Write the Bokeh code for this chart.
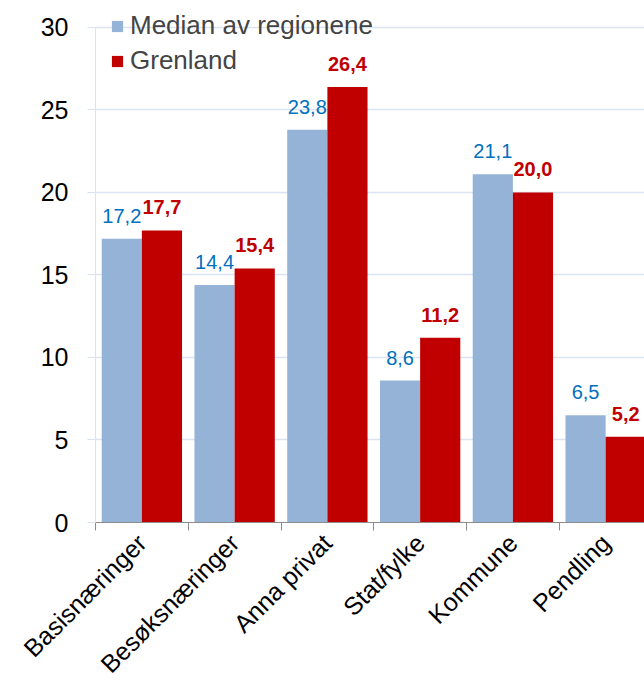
from bokeh.plotting import figure
from bokeh.models import ColumnDataSource, Range1d, FixedTicker, LabelSet, Legend, LegendItem
from bokeh.core.properties import value
from bokeh.embed import file_html
from bokeh.resources import INLINE
import math

categories = ["Basisnæringer", "Besøksnæringer", "Anna privat", "Stat/fylke", "Kommune", "Pendling"]
median_vals = [17.2, 14.4, 23.8, 8.6, 21.1, 6.5]
grenland_vals = [17.7, 15.4, 26.4, 11.2, 20.0, 5.2]
series_names = ["Median av regionene", "Grenland"]
y_ticks = [0, 5, 10, 15, 20, 25, 30]

BLUE = "#95b3d7"
RED = "#c00000"
BLUE_TXT = "#0070c0"
GRID = "#d9e3f1"
FONT = "Liberation Sans"

n = len(categories)
bw = 0.433
centers = [i + 0.5 for i in range(n)]
xb = [c - bw / 2 for c in centers]
xr = [c + bw / 2 for c in centers]

def fmt(v):
    return f"{v:.1f}".replace(".", ",")

src_b = ColumnDataSource(dict(x=xb, top=median_vals, lab=[fmt(v) for v in median_vals]))
src_r = ColumnDataSource(dict(x=xr, top=grenland_vals, lab=[fmt(v) for v in grenland_vals]))

p = figure(width=644, height=690, output_backend="svg", toolbar_location=None,
           x_range=Range1d(0, 5.919), y_range=Range1d(0, 31.636),
           min_border_left=95, min_border_right=0, min_border_top=0, min_border_bottom=168)
p.outline_line_color = None
p.background_fill_color = "white"

rb = p.vbar(x="x", top="top", width=bw, source=src_b, fill_color=BLUE, line_color=None)
rr = p.vbar(x="x", top="top", width=bw, source=src_r, fill_color=RED, line_color=None)

# x axis
p.xaxis.ticker = FixedTicker(ticks=centers, minor_ticks=list(range(n)))
p.xaxis.major_label_overrides = {c: lab for c, lab in zip(centers, categories)}
p.xaxis.major_label_orientation = math.pi / 4
p.xaxis.major_tick_out = 0
p.xaxis.major_tick_in = 0
p.xaxis.minor_tick_out = 8
p.xaxis.minor_tick_in = 0
p.xaxis.minor_tick_line_color = "#8c8c8c"
p.xaxis.axis_line_color = "#8c8c8c"
p.xaxis.major_label_text_font = FONT
p.xaxis.major_label_text_font_size = "25px"
p.xaxis.major_label_text_color = "black"
p.xaxis.major_label_standoff = 8
p.xgrid.grid_line_color = None

# y axis
p.yaxis.ticker = FixedTicker(ticks=y_ticks)
p.yaxis.bounds = (0, 30)
p.yaxis.axis_line_color = GRID
p.yaxis.major_tick_line_color = GRID
p.yaxis.major_tick_out = 8
p.yaxis.major_tick_in = 0
p.yaxis.minor_tick_line_color = None
p.yaxis.major_label_text_font = FONT
p.yaxis.major_label_text_font_size = "25px"
p.yaxis.major_label_text_color = "black"
p.yaxis.major_label_standoff = 19
p.ygrid.grid_line_color = GRID
p.ygrid.grid_line_width = 1.5

# data labels
lb = LabelSet(x="x", y="top", text="lab", source=src_b, text_align="center", text_baseline="alphabetic",
              y_offset=16, text_font=value(FONT), text_font_size="20px", text_color=BLUE_TXT)
lr = LabelSet(x="x", y="top", text="lab", source=src_r, text_align="center", text_baseline="alphabetic",
              y_offset=16, text_font=value(FONT), text_font_size="20px", text_color=RED,
              text_font_style="bold")
p.add_layout(lb)
p.add_layout(lr)

legend = Legend(items=[LegendItem(label=series_names[0], renderers=[rb]),
                       LegendItem(label=series_names[1], renderers=[rr])],
                location=(15, 446))
legend.margin = 0
legend.padding = 0
legend.glyph_width = 14
legend.glyph_height = 14
legend.label_standoff = 6
legend.spacing = 4
legend.label_text_font = FONT
legend.label_text_font_size = "26px"
legend.background_fill_alpha = 0
legend.border_line_color = None
p.add_layout(legend)

open("out.html", "w").write(file_html(p, INLINE))
